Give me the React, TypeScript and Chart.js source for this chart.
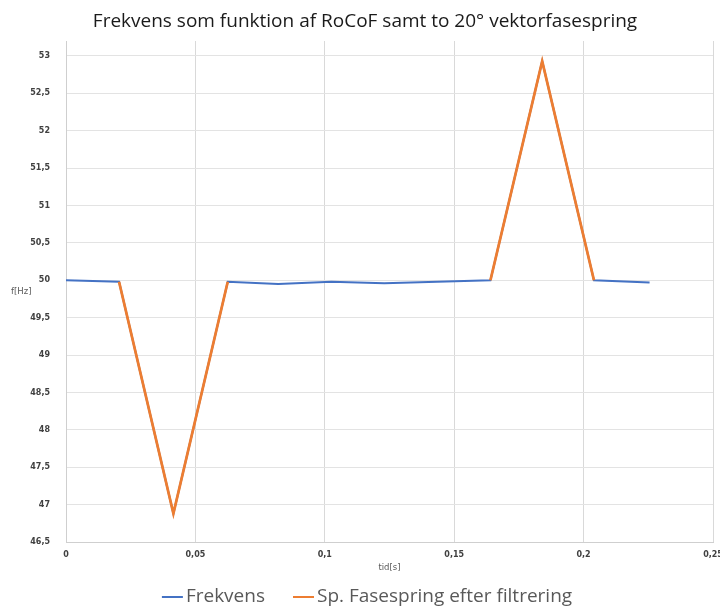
import React, { useEffect, useRef } from "react";
import { Chart, registerables } from "chart.js";

Chart.register(...registerables);

const chartTitle = "Frekvens som funktion af RoCoF samt to 20° vektorfasespring";
const xAxisTitle = "tid[s]";
const yAxisTitle = "f[Hz]";
const seriesNames = ["Frekvens", "Sp. Fasespring efter filtrering"];
const seriesColors = ["#4472C4", "#ED7D31"];

const times = [0, 0.0205, 0.0415, 0.0625, 0.082, 0.1025, 0.123, 0.1435, 0.164, 0.184, 0.204, 0.2255];
const frekvens = [50.0, 49.98, 46.88, 49.98, 49.95, 49.98, 49.96, 49.98, 50.0, 52.93, 50.0, 49.97];
const fasespring: (number | null)[] = [null, 49.98, 46.88, 49.98, null, null, null, null, 50.0, 52.93, 50.0, null];

const xTickValues = [0, 0.05, 0.1, 0.15, 0.2, 0.25];
const xTickLabels = ["0", "0,05", "0,1", "0,15", "0,2", "0,25"];
const yTickValues = [46.5, 47, 47.5, 48, 48.5, 49, 49.5, 50, 50.5, 51, 51.5, 52, 52.5, 53];
const yTickLabels = ["46,5", "47", "47,5", "48", "48,5", "49", "49,5", "50", "50,5", "51", "51,5", "52", "52,5", "53"];

const decorPlugin = {
  id: "decor",
  afterDraw(chart: any) {
    const ctx = chart.ctx as CanvasRenderingContext2D;
    const area = chart.chartArea;
    ctx.save();
    // Title
    ctx.fillStyle = "#1a1a1a";
    ctx.font = "19px 'Open Sans'";
    ctx.textAlign = "center";
    ctx.textBaseline = "alphabetic";
    ctx.fillText(chartTitle, 365, 27);
    // Axis titles
    ctx.fillStyle = "#595959";
    ctx.font = "8.5px 'DejaVu Sans'";
    ctx.textAlign = "left";
    ctx.textBaseline = "middle";
    ctx.fillText(yAxisTitle, 11, (area.top + area.bottom) / 2);
    ctx.textAlign = "center";
    ctx.fillText(xAxisTitle, (area.left + area.right) / 2, 568);
    // Legend
    ctx.font = "19px 'Open Sans'";
    ctx.textBaseline = "middle";
    ctx.textAlign = "left";
    const sw = 21;
    const gap = 3;
    const spacing = 28;
    const widths = seriesNames.map((n) => sw + gap + ctx.measureText(n).width);
    const total = widths.reduce((a, b) => a + b, 0) + spacing * (seriesNames.length - 1);
    let x = 367 - total / 2;
    const y = 597;
    seriesNames.forEach((name, i) => {
      ctx.strokeStyle = seriesColors[i];
      ctx.lineWidth = 2;
      ctx.beginPath();
      ctx.moveTo(x, y);
      ctx.lineTo(x + sw, y);
      ctx.stroke();
      ctx.fillStyle = "#595959";
      ctx.fillText(name, x + sw + gap, y);
      x += widths[i] + spacing;
    });
    ctx.restore();
  },
};

export default function App() {
  const ref = useRef<HTMLCanvasElement | null>(null);
  useEffect(() => {
    if (!ref.current) return;
    const tickFont = { family: "'DejaVu Sans'", size: 8, weight: "bold" as const };
    const chart = new Chart(ref.current, {
      type: "scatter",
      data: {
        datasets: [
          {
            label: seriesNames[0],
            data: times.map((t, i) => ({ x: t, y: frekvens[i] })),
            borderColor: seriesColors[0],
            backgroundColor: seriesColors[0],
            borderWidth: 2,
            showLine: true,
            pointRadius: 0,
            order: 1,
          },
          {
            label: seriesNames[1],
            data: times.map((t, i) => ({ x: t, y: fasespring[i] as any })),
            borderColor: seriesColors[1],
            backgroundColor: seriesColors[1],
            borderWidth: 2.75,
            showLine: true,
            spanGaps: false,
            pointRadius: 0,
            order: 0,
          },
        ],
      },
      options: {
        animation: false,
        responsive: false,
        devicePixelRatio: 1,
        layout: { padding: { top: 41, right: 7, left: 0, bottom: 0 } },
        plugins: {
          legend: { display: false },
          title: { display: false },
          tooltip: { enabled: false },
        },
        scales: {
          x: {
            type: "linear",
            min: 0,
            max: 0.25,
            grid: { color: "#d9d9d9", drawTicks: false, lineWidth: 1 },
            border: { color: "#cfcfcf", width: 1 },
            ticks: {
              font: tickFont,
              color: "#404040",
              padding: 8,
              maxRotation: 0,
              autoSkip: false,
              callback: (_v: any, i: number) => xTickLabels[i],
            },
            afterBuildTicks: (scale: any) => {
              scale.ticks = xTickValues.map((v) => ({ value: v }));
            },
            afterFit: (scale: any) => {
              scale.height = 64;
              scale.paddingLeft = 0;
              scale.paddingRight = 0;
            },
          },
          y: {
            type: "linear",
            min: 46.5,
            max: 53.2,
            grid: { color: "#e3e3e3", drawTicks: false, lineWidth: 1 },
            border: { color: "#cfcfcf", width: 1 },
            ticks: {
              font: tickFont,
              color: "#404040",
              padding: 16,
              autoSkip: false,
              callback: (_v: any, i: number) => yTickLabels[i],
            },
            afterBuildTicks: (scale: any) => {
              scale.ticks = yTickValues.map((v) => ({ value: v }));
            },
            afterFit: (scale: any) => {
              scale.width = 66;
              scale.paddingTop = 0;
              scale.paddingBottom = 0;
            },
          },
        },
      },
      plugins: [decorPlugin],
    });
    return () => chart.destroy();
  }, []);
  return (
    <div style={{ position: "absolute", left: 0, top: 0, width: 720, height: 606, background: "#fff" }}>
      <canvas ref={ref} width={720} height={606} style={{ width: 720, height: 606, display: "block" }} />
    </div>
  );
}
